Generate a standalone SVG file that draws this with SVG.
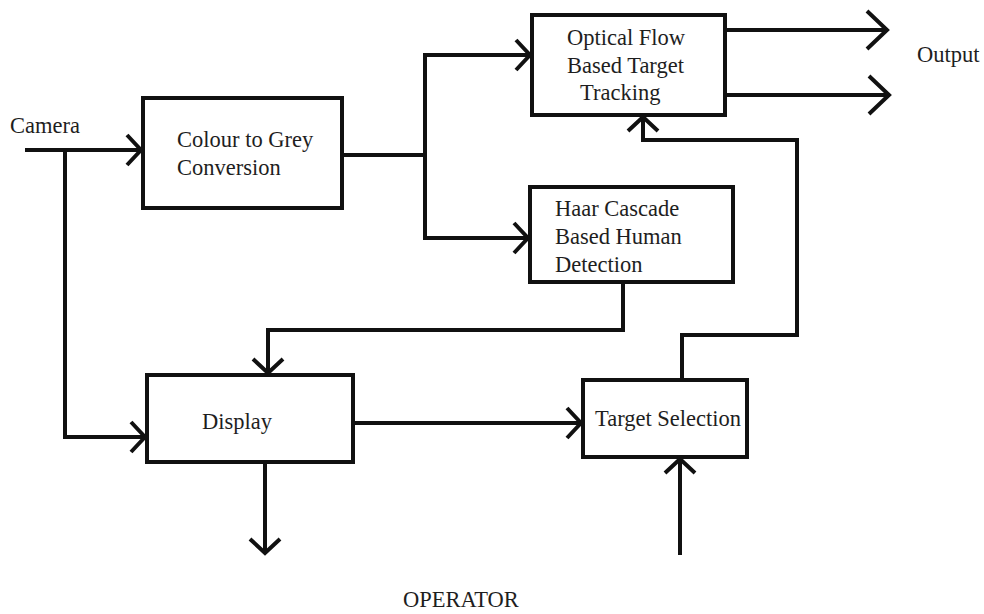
<svg xmlns="http://www.w3.org/2000/svg" width="984" height="614" viewBox="0 0 984 614">
  <style>
    .box { fill: #ffffff; stroke: #111111; stroke-width: 4; }
    .wire { fill: none; stroke: #111111; stroke-width: 4; stroke-linejoin: miter; }
    .lbl { font-family: "Liberation Serif", "Times New Roman", serif; font-size: 22.5px; fill: #1e1e1e; }
  </style>
  <defs>
    <marker id="chev" markerUnits="userSpaceOnUse" viewBox="-20 -20 40 40" markerWidth="40" markerHeight="40" refX="0" refY="0" orient="auto">
      <path d="M -14 -15 L 0 0 L -14 15" fill="none" stroke="#111111" stroke-width="4"/>
    </marker>
    <marker id="chevBig" markerUnits="userSpaceOnUse" viewBox="-30 -30 60 60" markerWidth="60" markerHeight="60" refX="0" refY="0" orient="auto">
      <path d="M -20 -19 L 0 0 L -20 19" fill="none" stroke="#111111" stroke-width="4"/>
    </marker>
  </defs>

  <rect width="984" height="614" fill="#ffffff"/>

  <!-- connectors -->
  <g id="connectors">
    <!-- camera input to colour conversion -->
    <path class="wire" d="M 25 150 L 141 150" marker-end="url(#chev)"/>
    <!-- camera branch to display -->
    <path class="wire" d="M 65 150 L 65 437 L 145 437" marker-end="url(#chev)"/>
    <!-- grey image to optical flow -->
    <path class="wire" d="M 342 155 L 425 155 L 425 55 L 530 55" marker-end="url(#chev)"/>
    <!-- grey image to haar cascade -->
    <path class="wire" d="M 425 155 L 425 238 L 528 238" marker-end="url(#chev)"/>
    <!-- outputs -->
    <path class="wire" d="M 725 30 L 887 30" marker-end="url(#chevBig)"/>
    <path class="wire" d="M 725 95 L 889 95" marker-end="url(#chevBig)"/>
    <!-- detections to display -->
    <path class="wire" d="M 623 282 L 623 330 L 268 330 L 268 373" marker-end="url(#chev)"/>
    <!-- display to target selection -->
    <path class="wire" d="M 353 423 L 581 423" marker-end="url(#chev)"/>
    <!-- display to operator -->
    <path class="wire" d="M 265 462 L 265 553" marker-end="url(#chev)"/>
    <!-- operator to target selection -->
    <path class="wire" d="M 680 555 L 680 459" marker-end="url(#chev)"/>
    <!-- selected target back to tracker -->
    <path class="wire" d="M 682 380 L 682 335 L 797 335 L 797 140 L 643 140 L 643 117" marker-end="url(#chev)"/>
  </g>

  <g id="colour-to-grey">
    <rect class="box" x="143" y="98" width="199" height="110"/>
    <text class="lbl" x="177" y="147">Colour to Grey</text>
    <text class="lbl" x="177" y="175">Conversion</text>
  </g>

  <g id="optical-flow">
    <rect class="box" x="532" y="15" width="193" height="100"/>
    <text class="lbl" x="567" y="45">Optical Flow</text>
    <text class="lbl" x="567" y="73">Based Target</text>
    <text class="lbl" x="580" y="100">Tracking</text>
  </g>

  <g id="haar-cascade">
    <rect class="box" x="530" y="187" width="203" height="95"/>
    <text class="lbl" x="555" y="216">Haar Cascade</text>
    <text class="lbl" x="555" y="244">Based Human</text>
    <text class="lbl" x="555" y="272">Detection</text>
  </g>

  <g id="display">
    <rect class="box" x="147" y="375" width="206" height="87"/>
    <text class="lbl" x="202" y="429">Display</text>
  </g>

  <g id="target-selection">
    <rect class="box" x="583" y="380" width="164" height="77"/>
    <text class="lbl" x="595" y="426">Target Selection</text>
  </g>

  <g id="labels">
    <text class="lbl" x="10" y="133">Camera</text>
    <text class="lbl" x="917" y="62">Output</text>
    <text class="lbl" x="403" y="607">OPERATOR</text>
  </g>
</svg>
